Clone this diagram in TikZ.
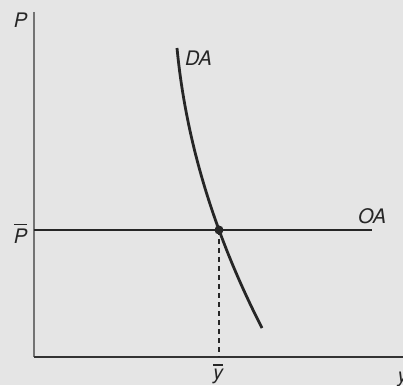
\documentclass[tikz,border=0pt]{standalone}
\usepackage{fontspec}
\setmainfont{TeX Gyre Heros}
\newcommand{\barletter}[1]{\setbox0\hbox{#1}\makebox[0pt][l]{\raisebox{\dimexpr\ht0+3.5pt\relax}{\rule{\wd0}{1.6pt}}}\box0}
\begin{document}
\begin{tikzpicture}[x=1pt,y=1pt,
  lbl/.style={inner sep=0pt,font=\fontsize{20}{22}\selectfont\itshape,text=black!85},
  curveline/.style={line width=2.8pt,draw=black!85}]
\fill[black!10] (0,0) rectangle (403,385);
\useasboundingbox (0,0) rectangle (403,385);
\coordinate (origin) at (33.5,28);
\coordinate (ytop) at (33.5,373);
\coordinate (xend) at (405,28);
\draw[line width=2pt,draw=black!55] (ytop) -- (origin);
\draw[line width=1.8pt,draw=black!80] (origin) -- (xend);
\coordinate (oaL) at (34,155);
\coordinate (oaR) at (372,155);
\draw[curveline] (oaL) -- (oaR);
\coordinate (daT) at (177,337);
\coordinate (daB) at (262,57);
\draw[curveline] (daT) .. controls (185.9,243.7) and (214.3,150.3) .. (daB);
\coordinate (eq) at (219,155);
\coordinate (eqx) at (219,28);
\draw[line width=1.3pt,draw=black!85,dash pattern=on 5pt off 4pt] (eq) -- (eqx);
\fill[black!85] (eq) circle (4.5);
\node[lbl,anchor=base] (Plab) at (20.5,357) {P};
\node[lbl,anchor=base] (Pbar) at (20.5,141.7) {\barletter{P}};
\node[lbl,anchor=base] (ybar) at (218,5.5) {\barletter{y}};
\node[lbl,anchor=base west] (DAlab) at (185,319) {DA};
\node[lbl,anchor=base west] (OAlab) at (358,161) {OA};
\node[lbl,anchor=base west] (ylab) at (397.5,3) {y};
\end{tikzpicture}
\end{document}
